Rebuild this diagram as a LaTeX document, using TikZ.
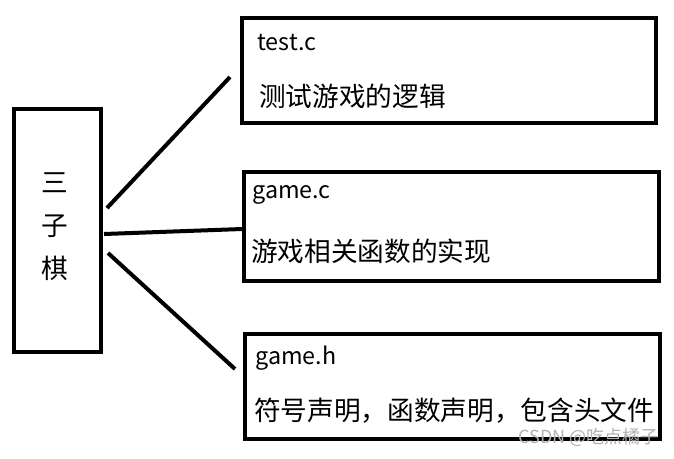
\documentclass[tikz,border=0pt]{standalone}
\usepackage{fontspec}
\setmainfont{Noto Sans CJK SC}
\begin{document}
\begin{tikzpicture}[x=0.75pt,y=-0.75pt,
  box/.style={draw=black,line width=3pt,inner sep=0pt,fill=white},
  lbl/.style={anchor=west,inner sep=0pt,font=\fontsize{20}{24}\selectfont},
  lat/.style={anchor=west,inner sep=0pt,font=\fontsize{17.5}{21}\selectfont},
  mch/.style={inner sep=0pt,font=\fontsize{20}{24}\selectfont},
  conn/.style={line width=3pt}]
\useasboundingbox[fill=white] (0,0) rectangle (674,458);
% boxes
\node[box,minimum width=65.25pt,minimum height=182.25pt] (main) at (57.5,230.5) {};
\node[box,minimum width=310.5pt,minimum height=78.75pt] (b1) at (449,70.5) {};
\node[box,minimum width=311.25pt,minimum height=81.75pt] (b2) at (451.5,226.5) {};
\node[box,minimum width=311.25pt,minimum height=78.75pt] (b3) at (452.5,386.5) {};
% main text
\node[mch] (m1) at (55,183) {三};
\node[mch] (m2) at (55,226) {子};
\node[mch] (m3) at (55,268) {棋};
% box texts
\node[lat] (t1) at (257,43) {test.c};
\node[lbl] (d1) at (259,96) {测试游戏的逻辑};
\node[lat] (t2) at (252,195) {game.c};
\node[lbl] (d2) at (251,251) {游戏相关函数的实现};
\node[lat] (t3) at (255,358) {game.h};
\node[lbl] (d3) at (254,411) {符号声明，函数声明，包含头文件};
\node[anchor=east,inner sep=0pt,text=black!30,font=\fontsize{13.5}{15}\selectfont] (wm) at (659,437) {CSDN @吃点橘子};
% connectors
\coordinate (s1) at (107,208);
\coordinate (e1) at (230,77);
\coordinate (s2) at (104,234);
\coordinate (e2) at (242,229);
\coordinate (s3) at (108,253);
\coordinate (e3) at (235,369);
\draw[conn] (s1) -- (e1);
\draw[conn] (s2) -- (e2);
\draw[conn] (s3) -- (e3);
\end{tikzpicture}
\end{document}
